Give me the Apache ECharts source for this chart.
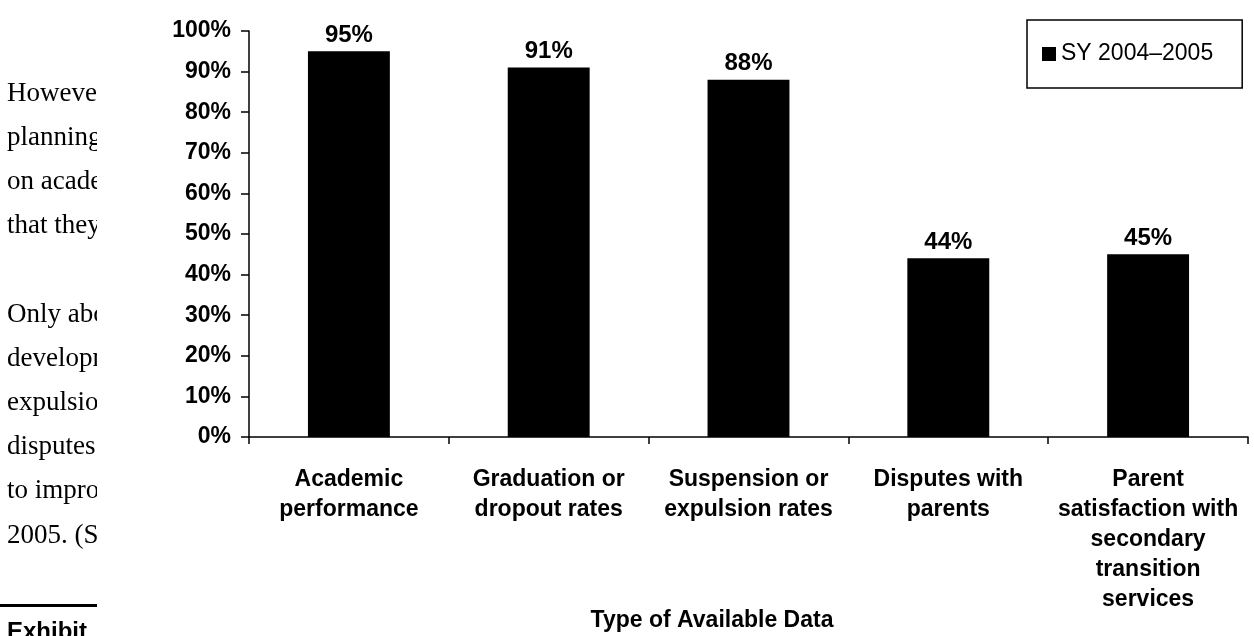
<!DOCTYPE html>
<html>
<head>
<meta charset="utf-8">
<script src="https://cdn.jsdelivr.net/npm/echarts@6/dist/echarts.min.js"></script>
<style>
  html, body { margin: 0; padding: 0; background: #fff; }
  #chart { width: 1254px; height: 636px; }
</style>
</head>
<body>
<div id="chart"></div>
<script>
// Share of districts with each type of data available
const categories = [
  'Academic\nperformance',
  'Graduation or\ndropout rates',
  'Suspension or\nexpulsion rates',
  'Disputes with\nparents',
  'Parent\nsatisfaction with\nsecondary\ntransition\nservices'
];
const values = [95, 91, 88, 44, 45];
const seriesName = 'SY 2004\u20132005';
const axisTitle = 'Type of Available Data';

// Report body text running beside the figure (cut off by the figure frame)
const bodyLines = [
  'However,', 'planning', 'on acade', 'that they', '',
  'Only abo', 'developm', 'expulsion', 'disputes', 'to impro', '2005. (Se'
];
const exhibitLabel = 'Exhibit';

const SANS = '"Liberation Sans", Arial, Helvetica, sans-serif';
const SERIF = '"Liberation Serif", "Times New Roman", serif';

const chart = echarts.init(document.getElementById('chart'));

const graphics = [];
bodyLines.forEach((line, i) => {
  if (!line) return;
  graphics.push({
    type: 'text', z: -3, left: 7, top: 95 + i * 44.2 - 15,
    style: { text: line, font: '27px ' + SERIF, fill: '#000' }
  });
});
graphics.push({
  type: 'rect', z: -3, shape: { x: 0, y: 604, width: 120, height: 3 },
  style: { fill: '#000' }
});
graphics.push({
  type: 'text', z: -3, left: 7, top: 620,
  style: { text: exhibitLabel, font: 'bold 24px ' + SANS, fill: '#000' }
});
// white figure frame that hides the body text to its right
graphics.push({
  type: 'rect', z: -2, shape: { x: 97, y: 0, width: 1157, height: 636 },
  style: { fill: '#fff' }
});
graphics.push({
  type: 'text', z: 5, x: 712, y: 621,
  style: {
    text: axisTitle, font: 'bold 23px ' + SANS, fill: '#000',
    textAlign: 'center', textVerticalAlign: 'middle'
  }
});

chart.setOption({
  animation: false,
  backgroundColor: 'transparent',
  textStyle: { fontFamily: SANS },
  graphic: graphics,
  grid: { left: 249, right: 6, top: 31, bottom: 199, containLabel: false },
  legend: {
    data: [seriesName],
    left: 1027, top: 20,
    orient: 'vertical',
    icon: 'rect',
    itemWidth: 14, itemHeight: 14,
    borderColor: '#000', borderWidth: 1.5,
    padding: [22, 29, 22, 15],
    textStyle: { color: '#000', fontSize: 23, lineHeight: 24, fontFamily: SANS }
  },
  xAxis: {
    type: 'category',
    data: categories,
    boundaryGap: true,
    axisLine: { lineStyle: { color: '#000', width: 1.5 } },
    axisTick: { show: true, length: 7, inside: false, alignWithLabel: false,
      lineStyle: { color: '#000', width: 1.5 } },
    axisLabel: {
      interval: 0, margin: 28, color: '#000', fontSize: 23, lineHeight: 30,
      fontWeight: 'bold', fontFamily: SANS, align: 'center'
    },
    splitLine: { show: false }
  },
  yAxis: {
    type: 'value',
    min: 0, max: 100, interval: 10,
    axisLine: { show: true, lineStyle: { color: '#000', width: 1.5 } },
    axisTick: { show: true, length: 8, inside: false,
      lineStyle: { color: '#000', width: 1.5 } },
    axisLabel: {
      formatter: '{value}%', margin: 18, color: '#000', fontSize: 23,
      fontWeight: 'bold', fontFamily: SANS
    },
    splitLine: { show: false }
  },
  series: [{
    name: seriesName,
    type: 'bar',
    data: values,
    barWidth: '41%',
    itemStyle: { color: '#000' },
    label: {
      show: true, position: 'top', distance: 4,
      formatter: '{c}%', color: '#000', fontSize: 24, fontWeight: 'bold',
      fontFamily: SANS
    }
  }]
});
</script>
</body>
</html>
